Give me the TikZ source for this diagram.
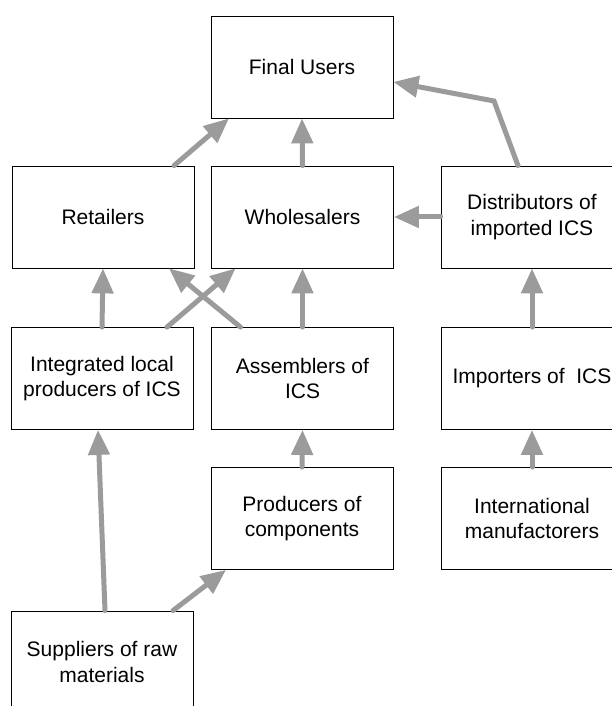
\documentclass[tikz,border=0pt]{standalone}
\usepackage{fontspec}
\setmainfont{Liberation Sans}
\usepackage{tikz}
\usetikzlibrary{arrows.meta}
\definecolor{arrowgray}{RGB}{155,155,155}
\tikzset{
    >={Triangle[length=25pt, width=21pt]},
    x=1pt, y=1pt,
    box/.style={draw, line width=0.8pt, minimum width=182pt, minimum height=102pt,
        inner sep=0pt, align=center, font=\fontsize{21}{25.5}\selectfont},
    flow/.style={->, draw=arrowgray, line width=5pt, line cap=round}
}

\begin{document}
\begin{tikzpicture}
    % tikz code goes here
        \clip (0,0) rectangle (612,706);
        \node[box] (users) at (302,639) {Final Users};
        \node[box] (retail) at (103,489) {Retailers};
        \node[box] (whole) at (302.5,489) {Wholesalers};
        \node[box] (dist) at (532,489) {Distributors of\\imported ICS};
        \node[box] (integ) at (102,327.5) {Integrated local\\producers of ICS};
        \node[box] (assem) at (302.5,327.5) {Assemblers of\\ICS};
        \node[box] (import) at (532,327.5) {Importers of\ \ ICS};
        \node[box] (prod) at (302,187.5) {Producers of\\components};
        \node[box] (intl) at (532,187.5) {International\\manufactorers};
        \node[box] (supp) at (102,44) {Suppliers of raw\\materials};
        \coordinate (bend) at (494,605);
        \draw[flow] ([xshift=71pt]retail.north) -- ([xshift=-73pt]users.south);
        \draw[flow] (whole.north) -- (users.south);
        \draw[flow] ([xshift=-14pt]dist.north) -- (bend) -- ([yshift=-15pt]users.east);
        \draw[flow] (dist.west) -- (whole.east);
        \draw[flow] (integ.north) -- (retail.south);
        \draw[flow] ([xshift=65pt]integ.north) -- ([xshift=-67pt]whole.south);
        \draw[flow] ([xshift=-62pt]assem.north) -- ([xshift=66pt]retail.south);
        \draw[flow] (assem.north) -- (whole.south);
        \draw[flow] (import.north) -- (dist.south);
        \draw[flow] (prod.north) -- (assem.south);
        \draw[flow] (intl.north) -- (import.south);
        \draw[flow] ([xshift=3pt]supp.north) -- ([xshift=-4pt]integ.south);
        \draw[flow] ([xshift=71pt]supp.north) -- ([xshift=-76pt]prod.south);
    \end{tikzpicture}
\end{document}
